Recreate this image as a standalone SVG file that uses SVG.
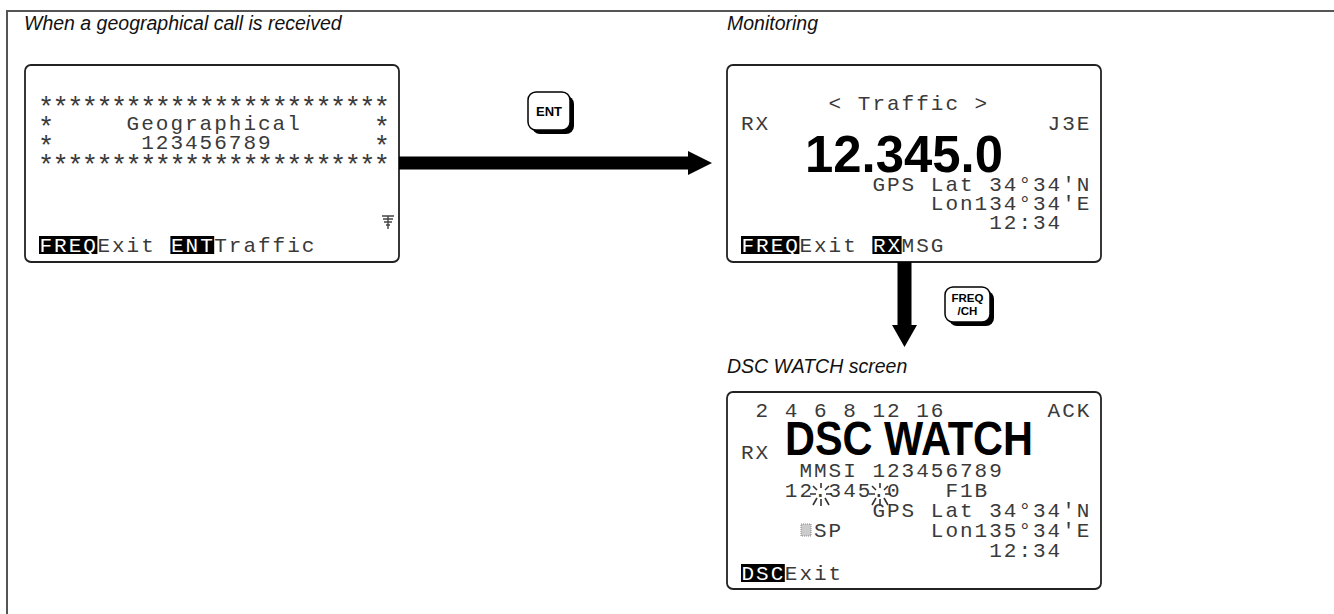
<svg xmlns="http://www.w3.org/2000/svg" width="1334" height="614" viewBox="0 0 1334 614">
<style>
.frame{fill:none;stroke:#555;stroke-width:2}
.title{font-family:"Liberation Sans",Arial,sans-serif;font-style:italic;font-size:19.5px;fill:#111}
.screen{fill:#fff;stroke:#222;stroke-width:1.8}
.lcd{font-family:"Liberation Mono","DejaVu Sans Mono",monospace;font-size:21px;letter-spacing:2px;fill:#3a3a3a}
.ast{font-family:"Liberation Mono","DejaVu Sans Mono",monospace;font-size:27px;letter-spacing:-1.6px;fill:#3a3a3a}
.inv{fill:#fff}
.blk{fill:#000}
.big{font-family:"Liberation Sans",Arial,sans-serif;font-weight:bold;fill:#000}
.key{fill:#fff;stroke:#000;stroke-width:1.5}
.keysh{fill:#000}
.keytxt{font-family:"Liberation Sans",Arial,sans-serif;font-weight:bold;fill:#000;text-anchor:middle}
.arrow{fill:#000}
.spark{stroke:#333;stroke-width:1.6;fill:none}
</style>
<rect width="1334" height="614" fill="#fff"/>
<path class="frame" d="M7,614 V11 H1334"/>

<text class="title" x="24" y="30">When a geographical call is received</text>
<text class="title" x="727" y="30">Monitoring</text>
<text class="title" x="727" y="373">DSC WATCH screen</text>

<g id="screen-geographical">
  <rect class="screen" x="25" y="65" width="374" height="197" rx="6"/>
  <text class="ast" x="38" y="116">************************</text>
  <text class="ast" x="38" y="136">*</text>
  <text class="lcd" x="126.6" y="130.3">Geographical</text>
  <text class="ast" x="373.8" y="136">*</text>
  <text class="ast" x="38" y="155">*</text>
  <text class="lcd" x="141.2" y="149.3">123456789</text>
  <text class="ast" x="373.8" y="155">*</text>
  <text class="ast" x="38" y="174">************************</text>
  <path d="M382,216h12M383,219h10M384,222h8M386,225h4M388,216v13" stroke="#444" stroke-width="1.4" fill="none"/>
  <rect class="blk" x="39" y="236" width="58.4" height="18"/>
  <text class="lcd inv" x="39.5" y="252">FREQ</text>
  <text class="lcd" x="97.4" y="252">Exit</text>
  <rect class="blk" x="170.4" y="236" width="43.8" height="18"/>
  <text class="lcd inv" x="171" y="252">ENT</text>
  <text class="lcd" x="214.2" y="252">Traffic</text>
</g>

<g id="screen-monitoring">
  <rect class="screen" x="727" y="65" width="374" height="197" rx="6"/>
  <text class="lcd" x="828.6" y="110">&lt; Traffic &gt;</text>
  <text class="lcd" x="741" y="130">RX</text>
  <text class="lcd" x="1047.6" y="130">J3E</text>
  <text class="big" x="805" y="172" font-size="52" textLength="198" lengthAdjust="spacingAndGlyphs">12.345.0</text>
  <text class="lcd" x="872.4" y="191">GPS Lat 34°34'N</text>
  <text class="lcd" x="930.8" y="209.5">Lon134°34'E</text>
  <text class="lcd" x="989.2" y="228.5">12:34</text>
  <rect class="blk" x="741" y="236" width="58.4" height="18"/>
  <text class="lcd inv" x="741.5" y="252">FREQ</text>
  <text class="lcd" x="799.4" y="252">Exit</text>
  <rect class="blk" x="872.4" y="236" width="29.2" height="18"/>
  <text class="lcd inv" x="873" y="252">RX</text>
  <text class="lcd" x="901.6" y="252">MSG</text>
</g>

<g id="screen-dsc-watch">
  <rect class="screen" x="727" y="392" width="374" height="197" rx="6"/>
  <text class="lcd" x="755.6" y="416.5">2 4 6 8 12 16</text>
  <text class="lcd" x="1047.6" y="416.5">ACK</text>
  <text class="big" x="785" y="455" font-size="48" textLength="248" lengthAdjust="spacingAndGlyphs">DSC WATCH</text>
  <text class="lcd" x="741" y="459">RX</text>
  <text class="lcd" x="799.4" y="477">MMSI 123456789</text>
  <text class="lcd" x="784.8" y="497">12.345.0</text>
  <text class="lcd" x="945.4" y="497">F1B</text>
  <g class="spark">
    <path d="M821,488v-5M821,499v7M816,494h-6M826,494h6M817,490l-4,-4M825,490l4,-4M817,498l-4,7M825,498l4,7"/>
    <path d="M880,488v-5M880,499v7M875,494h-6M885,494h6M876,490l-4,-4M884,490l4,-4M876,498l-4,7M884,498l4,7"/>
  </g>
  <text class="lcd" x="872.4" y="517">GPS Lat 34°34'N</text>
  <rect x="801" y="524" width="10" height="12" fill="#ccc" stroke="#888" stroke-width="1" stroke-dasharray="1 1"/>
  <text class="lcd" x="814" y="537">SP</text>
  <text class="lcd" x="930.8" y="537">Lon135°34'E</text>
  <text class="lcd" x="989.2" y="556.5">12:34</text>
  <rect class="blk" x="741" y="564" width="43.8" height="18"/>
  <text class="lcd inv" x="741.5" y="580">DSC</text>
  <text class="lcd" x="784.8" y="580">Exit</text>
</g>

<g id="key-ent">
  <rect class="keysh" x="532" y="96" width="42" height="38" rx="8"/>
  <rect class="key" x="528" y="92" width="42" height="38" rx="8"/>
  <text class="keytxt" x="549" y="116" font-size="13">ENT</text>
</g>

<g id="key-freq-ch">
  <rect class="keysh" x="949" y="291" width="45" height="35" rx="8"/>
  <rect class="key" x="945" y="287" width="45" height="35" rx="8"/>
  <text class="keytxt" x="967.5" y="302" font-size="11.5">FREQ</text>
  <text class="keytxt" x="967.5" y="315" font-size="11.5">/CH</text>
</g>

<g id="connectors">
  <path class="arrow" d="M399,156.5H688V151L712,163L688,175V169.5H399Z"/>
  <path class="arrow" d="M897.5,262V325H892L904.5,347L917,325H911.5V262Z"/>
</g>
</svg>
